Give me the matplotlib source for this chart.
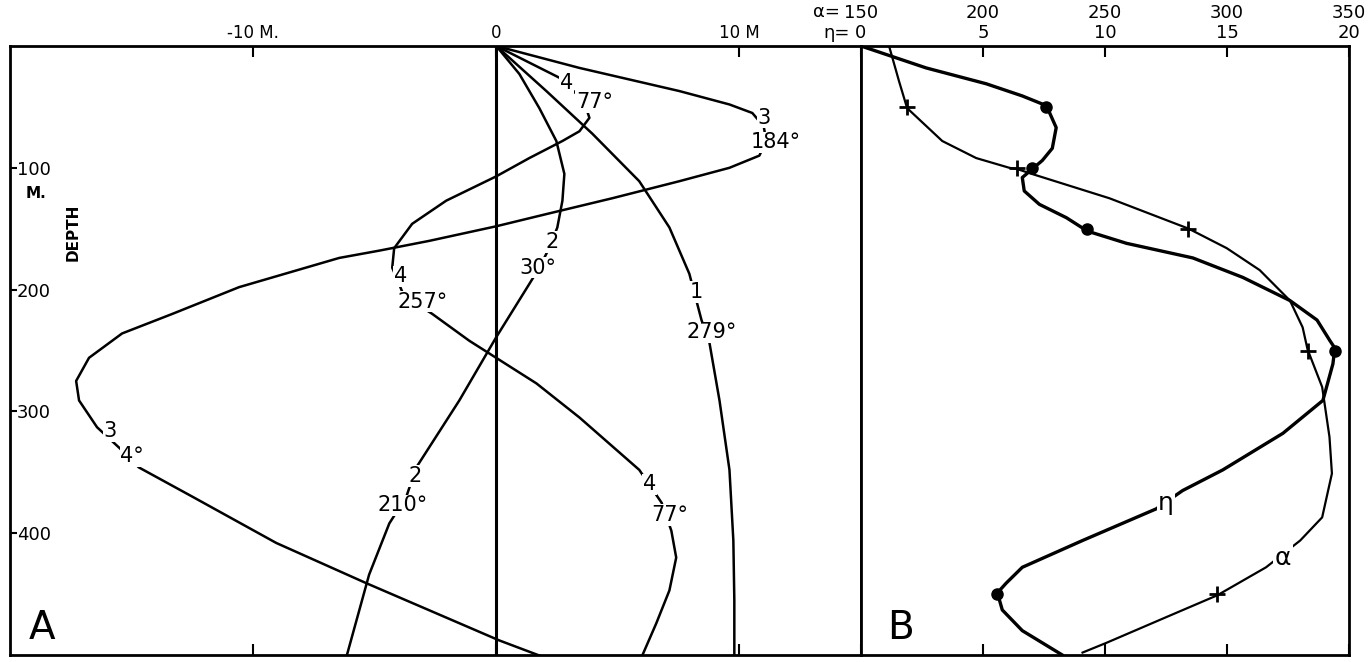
import matplotlib.pyplot as plt

# ---- Panel A: current curves (displacement in M, depth in m) ----
c1_x = [0, 2.06, 3.95, 5.88, 7.12, 7.94, 8.44, 8.77, 9.18, 9.59, 9.75, 9.79, 9.79]
c1_depth = [0, 37, 72, 111, 149, 187, 225, 244, 291, 348, 406, 455, 500]

c2_x = [0, 0.95, 1.77, 2.47, 2.8, 2.72, 2.51, 2.2, 1.77, 1.37, 0, -1.52, -3.29,
        -3.7, -4.4, -5.23, -6.17]
c2_depth = [0, 23, 51, 78, 105, 127, 149, 165, 182, 195, 239, 291, 346,
            370, 392, 434, 502]

c3_x = [0, 3.42, 7.53, 9.59, 10.53, 11.0, 11.1, 10.82, 9.59, 7.53, 4.77, 2.06, 0,
        -2.76, -4.81, -6.46, -10.58, -13.33, -15.39, -16.75, -17.28, -17.16, -16.42,
        -15.5, -14.7, -12.5, -9.05, -5.35, 0.12, 1.98]
c3_depth = [0, 18, 37, 48, 55, 66, 78, 90, 100, 111, 125, 138, 148,
            160, 168, 174, 198, 220, 236, 256, 275, 291, 313,
            330, 346, 370, 408, 441, 488, 502]

c4_x = [0, 2.59, 3.6, 3.83, 3.42, 2.72, 1.36, 0, -2.06, -3.46, -4.2, -4.28, -3.8,
        -2.63, -1.11, 1.65, 3.42, 5.88, 6.8, 7.2, 7.4, 7.12, 6.58, 5.97]
c4_depth = [0, 26, 45, 59, 70, 78, 92, 107, 127, 146, 166, 182, 205,
            220, 242, 277, 305, 348, 375, 398, 420, 447, 474, 502]

lbl_text = ["4", "77°", "3", "184°", "2", "30°", "1", "279°",
            "4", "257°", "3", "4°", "2", "210°", "4", "77°"]
lbl_x = [2.88, 4.03, 11.03, 11.48, 2.3, 1.69, 8.23, 8.85,
         -3.95, -3.05, -15.88, -14.98, -3.33, -3.87, 6.3, 7.12]
lbl_depth = [30, 46, 59, 79, 161, 182, 202, 235,
             189, 210, 316, 337, 353, 377, 360, 385]

a_ticks = [-10, 0, 10]
a_ticklabels = ["-10 M.", "0", "10 M"]
depth_ticks = [100, 200, 300, 400]

# ---- Panel B: eta and alpha against depth ----
eta = [0, 2.67, 5.13, 6.61, 7.6, 8.0, 7.84, 7.43, 7.02, 6.61, 6.69, 7.31, 8.42, 9.28,
       10.88, 13.6, 15.65, 17.58, 18.69, 19.22, 19.42, 19.34, 18.93, 17.29, 14.83,
       13.18, 12.1, 9.08, 6.61, 5.95, 5.59, 5.79, 6.61, 8.25]
eta_depth = [0, 18, 31, 41, 49, 67, 84, 94, 101, 108, 119, 130, 141, 152,
             162, 174, 190, 209, 225, 242, 248, 261, 291, 318, 348,
             365, 380, 406, 428, 441, 449, 463, 480, 500]
eta_pts = [7.6, 7.02, 9.28, 19.42, 5.59]
eta_pts_depth = [50, 100, 150, 250, 450]

alpha = [161.5, 165.6, 168.9, 183.3, 197.2, 210.8, 214, 220, 251.8, 284.3, 299.9,
         313.4, 325.8, 331, 333, 339, 342, 343, 339, 330, 316, 296, 275, 250.6, 240.8]
alpha_depth = [0, 29, 51, 78, 92, 100, 101, 105, 125, 150, 166,
               184, 209, 231, 249, 280, 321, 351, 387, 406, 428, 451, 469, 490, 498]
alpha_pts = [169, 214, 284, 333, 296]
alpha_pts_depth = [50, 100, 150, 250, 450]

eta_ticks = [0, 5, 10, 15, 20]
alpha_ticks = [150, 200, 250, 300, 350]

plt.rcParams['font.family'] = 'DejaVu Sans'
fig = plt.figure(figsize=(13.68, 6.62), dpi=100)

W, H = 1368, 662
ax_a = fig.add_axes([10 / W, 1 - 655 / H, (861 - 10) / W, (655 - 46) / H])
ax_b = fig.add_axes([861 / W, 1 - 655 / H, (1349 - 861) / W, (655 - 46) / H])

# panel A
for xs, ds in [(c1_x, c1_depth), (c2_x, c2_depth), (c3_x, c3_depth), (c4_x, c4_depth)]:
    ax_a.plot(xs, ds, color='black', lw=1.8, zorder=2, solid_joinstyle='round')
ax_a.axvline(0, color='black', lw=2.2, zorder=3)

for t, x, d in zip(lbl_text, lbl_x, lbl_depth):
    ax_a.text(x, d, t, fontsize=15, ha='center', va='center', zorder=4,
              bbox=dict(facecolor='white', edgecolor='none', pad=0.5))

ax_a.set_xlim(-20, 15)
ax_a.set_ylim(500, 0)
ax_a.xaxis.tick_top()
ax_a.set_xticks(a_ticks)
ax_a.set_xticklabels(a_ticklabels, fontsize=12)
ax_a.tick_params(axis='x', which='both', direction='in', length=8, width=1.5,
                 top=True, bottom=True, pad=3)
ax_a.set_yticks(depth_ticks)
ax_a.set_yticklabels([str(d) for d in depth_ticks], fontsize=13)
ax_a.tick_params(axis='y', direction='in', length=5, width=1.5, pad=-5)
for lab in ax_a.get_yticklabels():
    lab.set_horizontalalignment('left')
for sp in ax_a.spines.values():
    sp.set_linewidth(2)

ax_a.text(-18.95, 121, "M.", fontsize=11, fontweight='bold', ha='center', va='center')
ax_a.text(-17.4, 153, "DEPTH", fontsize=11, fontweight='bold', rotation=90,
          ha='center', va='center')
ax_a.text(-18.7, 478, "A", fontsize=28, ha='center', va='center')

# panel B
ax_b.plot(eta, eta_depth, color='black', lw=2.4, zorder=2, solid_joinstyle='round')
ax_b.plot(eta_pts, eta_pts_depth, 'o', color='black', ms=8, zorder=3)
ax_b.set_xlim(0, 20)
ax_b.set_ylim(500, 0)
ax_b.set_yticks([])
for sp in ax_b.spines.values():
    sp.set_linewidth(2)

ax_t = ax_b.twiny()
ax_t.plot(alpha, alpha_depth, color='black', lw=1.6, zorder=2, solid_joinstyle='round')
ax_t.plot(alpha_pts, alpha_pts_depth, '+', color='black', ms=11, mew=2, zorder=3)
ax_t.set_xlim(150, 350)
ax_t.set_ylim(500, 0)
ax_t.set_xticks(alpha_ticks)
ax_t.set_xticklabels([str(v) for v in alpha_ticks], fontsize=13)
ax_t.tick_params(axis='x', length=0, pad=17.5, top=True, bottom=False,
                 labeltop=True, labelbottom=False)
for sp in ax_t.spines.values():
    sp.set_visible(False)

ax_b.set_xticks(eta_ticks)
ax_b.set_xticklabels([str(v) for v in eta_ticks], fontsize=13)
ax_b.tick_params(axis='x', direction='in', length=8, width=1.5, top=True,
                 bottom=True, labeltop=True, labelbottom=False, pad=3)

ax_t.text(323, 420, "α", fontsize=18, ha='center', va='center', zorder=4,
          bbox=dict(facecolor='white', edgecolor='none', pad=1))
ax_b.text(12.5, 375, "η", fontsize=18, ha='center', va='center', zorder=4,
          bbox=dict(facecolor='white', edgecolor='none', pad=1))
ax_b.text(1.6, 478, "B", fontsize=28, ha='center', va='center')

ax_b.annotate("α=", xy=(0, 1), xycoords='axes fraction', xytext=(-15, 24.5),
              textcoords='offset points', fontsize=13, ha='right', va='center')
ax_b.annotate("η=", xy=(0, 1), xycoords='axes fraction', xytext=(-8, 9.5),
              textcoords='offset points', fontsize=13, ha='right', va='center')

fig.savefig("out.png", dpi=100)
